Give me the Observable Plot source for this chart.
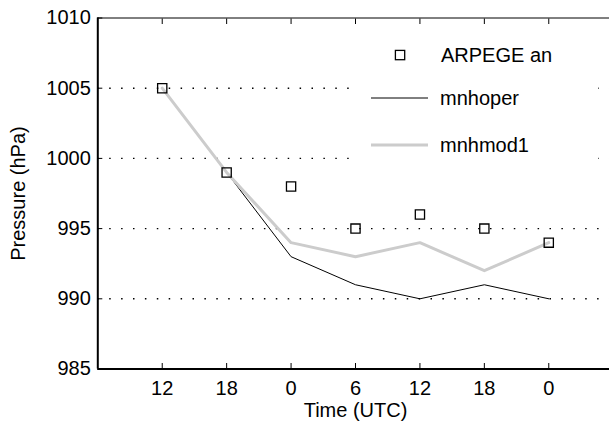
<!DOCTYPE html>
<html><head><meta charset="utf-8">
<script src="https://cdn.jsdelivr.net/npm/d3@7"></script>
<script src="https://cdn.jsdelivr.net/npm/@observablehq/plot@0.6"></script>
<style>
html,body{margin:0;padding:0;background:#fff;}
#wrap{position:relative;width:609px;height:427px;overflow:hidden;}
#wrap svg{display:block;}
#legend{position:absolute;left:0;top:0;pointer-events:none;}
</style></head><body><div id="wrap"></div>
<script>
const timeLabels = ["12", "18", "0", "6", "12", "18", "0"];
const arpegeAn = [1005, 999, 998, 995, 996, 995, 994];
const mnhoper = [1005, 999, 993, 991, 990, 991, 990];
const mnhmod1 = [1005, 999, 994, 993, 994, 992, 994];
const yTicks = [985, 990, 995, 1000, 1005, 1010];
const gridValues = [990, 995, 1000, 1005];
const seriesNames = ["ARPEGE an", "mnhoper", "mnhmod1"];
const xTitle = "Time (UTC)";
const yTitle = "Pressure (hPa)";

const idx = timeLabels.map((_, i) => i);
const toRows = arr => arr.map((v, i) => ({i, v}));
const FONT = "'Liberation Sans', Arial, Helvetica, sans-serif";
const yMin = yTicks[0], yMax = yTicks[yTicks.length - 1];
const blank = () => "";

const chart = Plot.plot({
  width: 609, height: 427,
  marginTop: 17.5, marginBottom: 58.5, marginLeft: 97.3, marginRight: -3.7,
  style: {fontFamily: FONT, fontSize: "20px", color: "#000", background: "transparent", overflow: "visible"},
  x: {domain: [-1, 7], range: [97.3, 612.7]},
  y: {domain: [yMin, yMax]},
  marks: [
    Plot.ruleY(gridValues, {stroke: "#000", strokeWidth: 1.4, strokeDasharray: "1.5,10.4"}),
    Plot.ruleY([yMax], {stroke: "#000", strokeWidth: 1}),
    Plot.axisX({ticks: idx, tickFormat: i => timeLabels[i], tickSize: 0, tickPadding: 12, label: null, fontSize: 20}),
    Plot.axisY({ticks: yTicks, tickFormat: d => String(d), tickSize: 0, tickPadding: 7, label: null, fontSize: 20}),
    // inward tick marks (outward ticks shifted inside the frame)
    Plot.axisX({anchor: "bottom", ticks: idx, tickSize: 5.5, dy: -5.5, tickFormat: blank, label: null, stroke: "#000", strokeWidth: 1}),
    Plot.axisX({anchor: "top", ticks: idx, tickSize: 5.5, dy: 5.5, tickFormat: blank, label: null, stroke: "#000", strokeWidth: 1}),
    Plot.axisY({anchor: "left", ticks: yTicks, tickSize: 5, dx: 5, tickFormat: blank, label: null, stroke: "#000", strokeWidth: 1}),
    Plot.line(toRows(mnhoper), {x: "i", y: "v", stroke: "#000", strokeWidth: 1}),
    Plot.line(toRows(mnhmod1), {x: "i", y: "v", stroke: "#cccccc", strokeWidth: 3}),
    Plot.dot(toRows(arpegeAn), {x: "i", y: "v", symbol: "square", r: 5.2, stroke: "#000", strokeWidth: 1.3, fill: "none"}),
    Plot.ruleY([yMin], {stroke: "#000", strokeWidth: 2}),
    Plot.ruleX([-1], {stroke: "#000", strokeWidth: 2}),
    Plot.text([xTitle], {frameAnchor: "bottom", dy: 42, fontSize: 20, textAnchor: "middle", lineAnchor: "middle"}),
    Plot.text([yTitle], {frameAnchor: "left", rotate: -90, dx: -79, fontSize: 20, textAnchor: "middle", lineAnchor: "middle"})
  ]
});
const wrap = document.getElementById("wrap");
wrap.appendChild(chart);

// Legend (drawn on top, white box hides the gridlines behind it)
const ns = "http://www.w3.org/2000/svg";
const leg = document.createElementNS(ns, "svg");
leg.setAttribute("id", "legend");
leg.setAttribute("width", 609);
leg.setAttribute("height", 427);
leg.innerHTML = `
  <rect x="358" y="30" width="240" height="138" fill="#fff"/>
  <rect x="395.4" y="50.4" width="9.3" height="9.3" fill="none" stroke="#000" stroke-width="1.3"/>
  <line x1="371" y1="98" x2="428" y2="98" stroke="#000" stroke-width="1"/>
  <line x1="371" y1="145" x2="428" y2="145" stroke="#cccccc" stroke-width="3"/>
  <g font-family="${FONT.replace(/'/g, "")}" font-size="20" fill="#000">
    <text x="441" y="55" dy="0.35em">${seriesNames[0]}</text>
    <text x="440" y="98" dy="0.35em">${seriesNames[1]}</text>
    <text x="440" y="145" dy="0.35em">${seriesNames[2]}</text>
  </g>`;
wrap.appendChild(leg);
</script></body></html>
